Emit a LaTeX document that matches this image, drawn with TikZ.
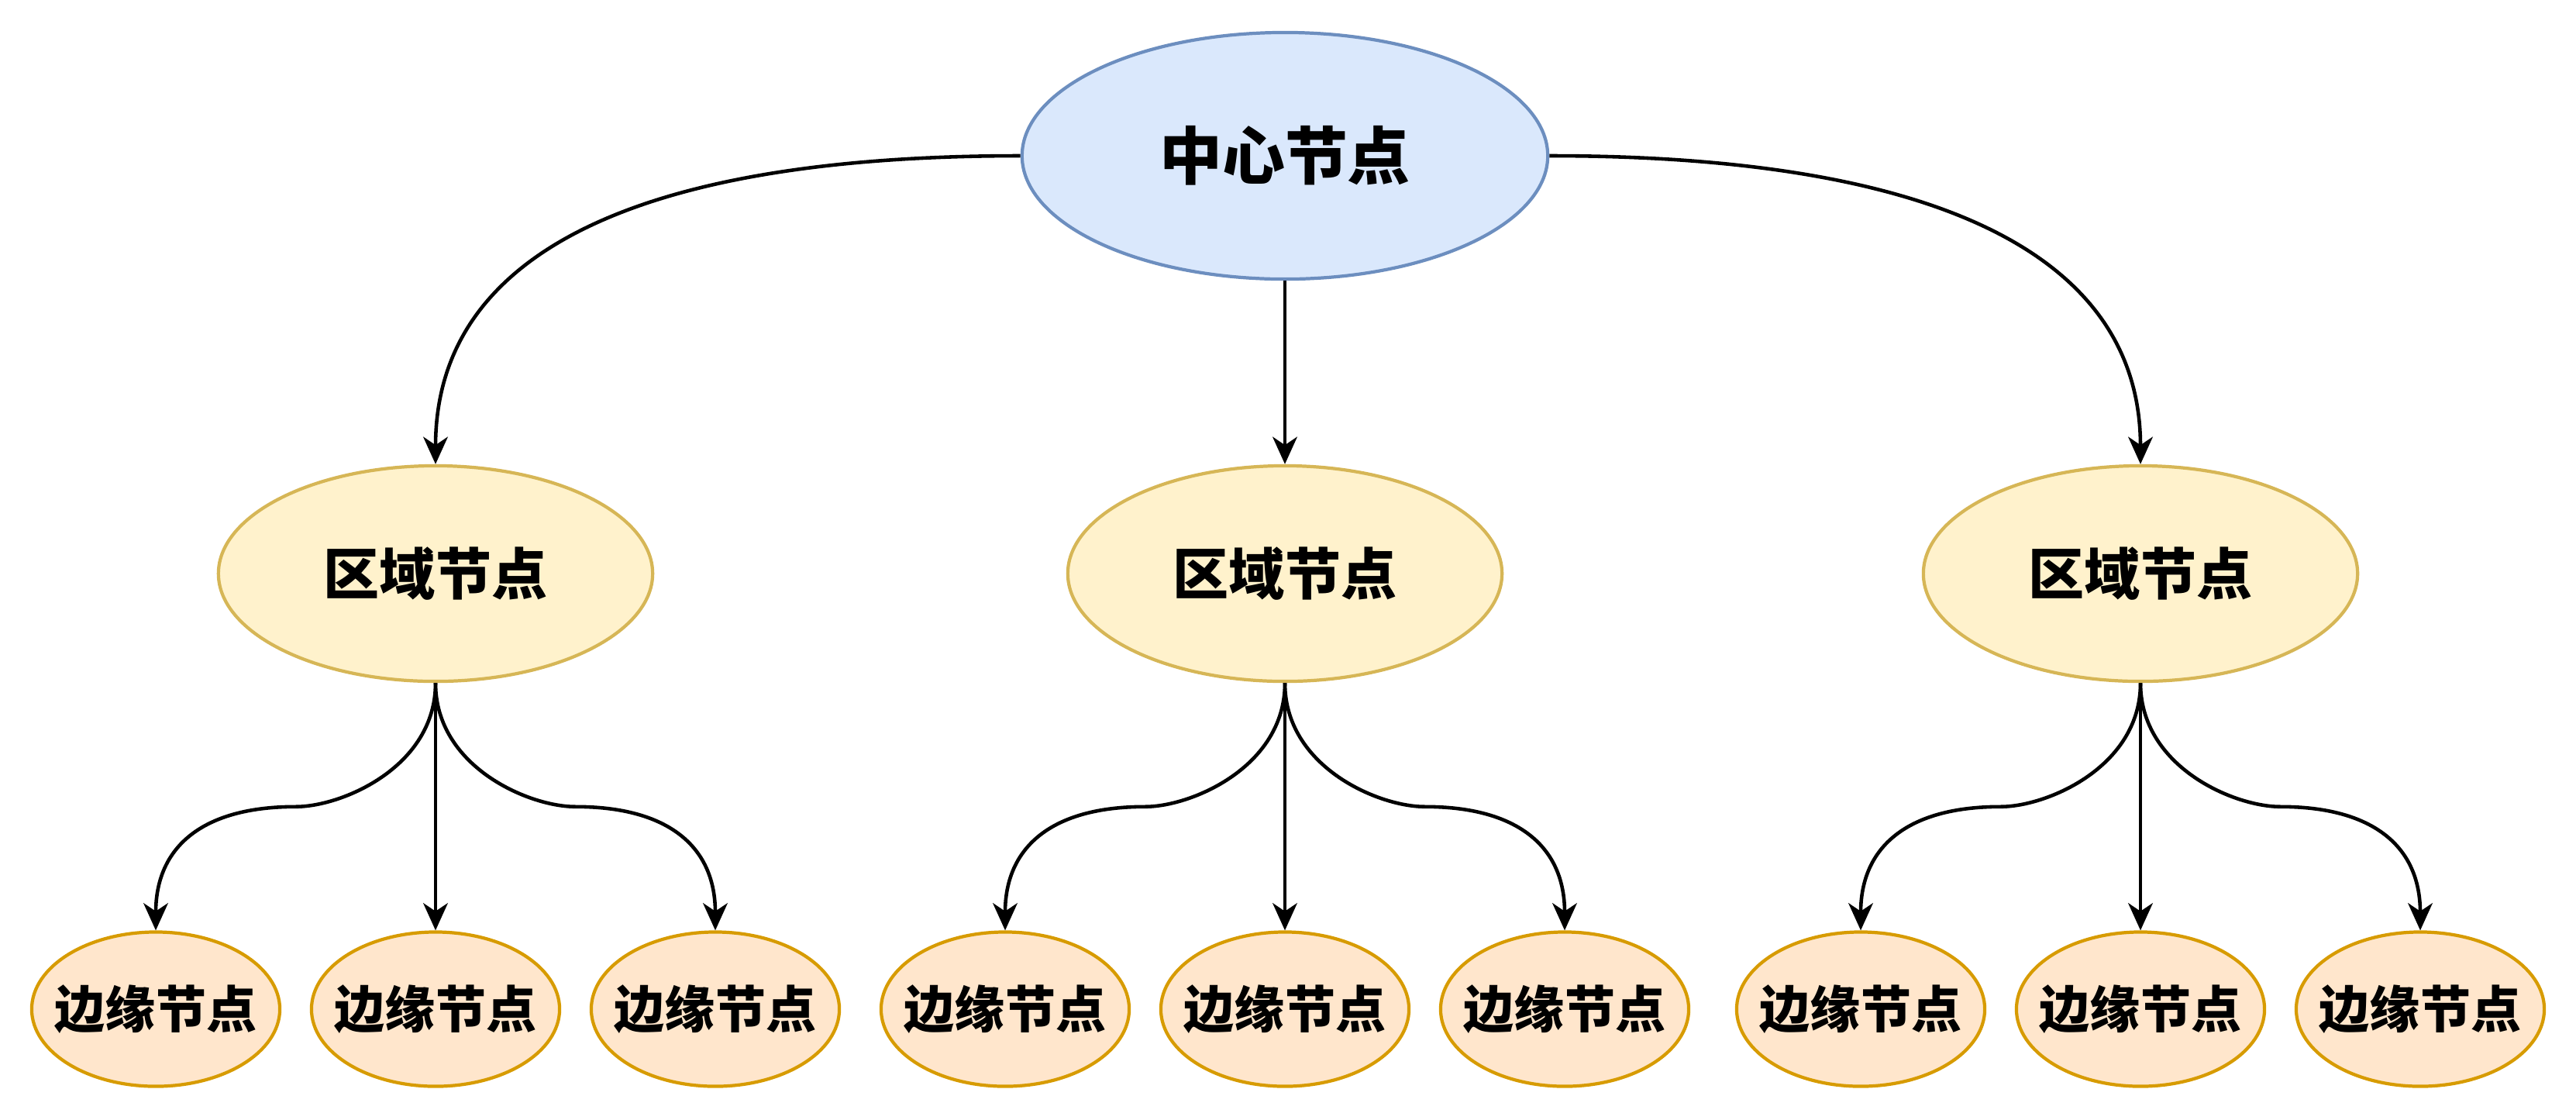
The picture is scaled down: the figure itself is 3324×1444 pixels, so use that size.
\documentclass[tikz,border=0pt]{standalone}
\usepackage{fontspec}
\usepackage{tikz}
\usetikzlibrary{shapes.geometric,arrows.meta,calc}
\newfontfamily\cjk{Noto Sans CJK SC}
\definecolor{hubfill}{HTML}{DAE8FC}
\definecolor{hubline}{HTML}{6C8EBF}
\definecolor{zonefill}{HTML}{FFF2CC}
\definecolor{zoneline}{HTML}{D6B656}
\definecolor{leaffill}{HTML}{FFE6CC}
\definecolor{leafline}{HTML}{D79B00}
\tikzset{
  hub/.style={ellipse,fill=hubfill,draw=hubline,line width=1.2pt,inner sep=0pt,
    minimum width=6.78cm,minimum height=3.18cm,
    font=\cjk\bfseries\fontsize{23}{27}\selectfont},
  zone/.style={ellipse,fill=zonefill,draw=zoneline,line width=1.2pt,inner sep=0pt,
    minimum width=5.60cm,minimum height=2.78cm,
    font=\cjk\bfseries\fontsize{20.5}{24}\selectfont},
  leaf/.style={ellipse,fill=leaffill,draw=leafline,line width=1.2pt,inner ysep=0pt,
    inner xsep=-0.4cm,minimum width=3.20cm,minimum height=1.99cm,
    font=\cjk\bfseries\fontsize{18.5}{22}\selectfont},
  link/.style={draw=black,line width=1.3pt,-{Stealth[length=10pt,width=9pt,inset=3pt]}}
}
\begin{document}
\begin{tikzpicture}[x=0.01cm,y=-0.01cm]
  \useasboundingbox (0,0) rectangle (3324,1444);
  \node[hub] (c) at (1658,201) {中心节点};
  \foreach \i/\x in {1/562,2/1658,3/2762} {
    \node[zone] (r\i) at (\x,740) {区域节点};
    \node[leaf] (e\i1) at (\x-361,1302) {边缘节点};
    \node[leaf] (e\i2) at (\x,1302) {边缘节点};
    \node[leaf] (e\i3) at (\x+361,1302) {边缘节点};
  }
  % centre to regions
  \draw[link] (c.west) .. controls +(-505,0) and +(0,-267) .. (r1.north);
  \draw[link] (c.south) -- (r2.north);
  \draw[link] (c.east) .. controls +(505,0) and +(0,-267) .. (r3.north);
  % regions to edge nodes
  \foreach \i in {1,2,3} {
    \coordinate (ml\i) at ($(r\i.south)!0.5!(e\i1.north)$);
    \coordinate (mr\i) at ($(r\i.south)!0.5!(e\i3.north)$);
    \draw[link] (r\i.south) .. controls +(0,108) and +(60,0) .. (ml\i)
      .. controls +(-120,0) and +(0,-108) .. (e\i1.north);
    \draw[link] (r\i.south) -- (e\i2.north);
    \draw[link] (r\i.south) .. controls +(0,108) and +(-60,0) .. (mr\i)
      .. controls +(120,0) and +(0,-108) .. (e\i3.north);
  }
\end{tikzpicture}
\end{document}
